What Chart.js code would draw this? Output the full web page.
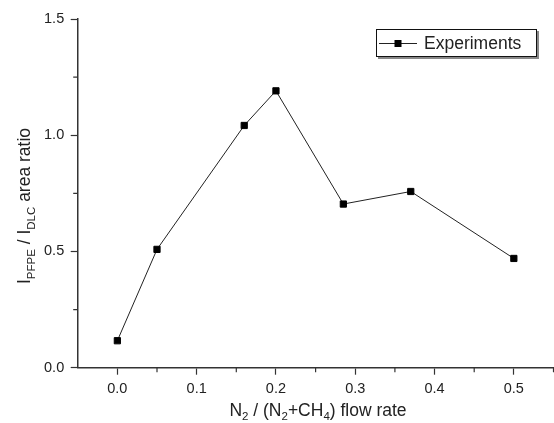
<!DOCTYPE html>
<html>
<head>
<meta charset="utf-8">
<script src="https://cdn.jsdelivr.net/npm/chart.js@4.4.0/dist/chart.umd.min.js"></script>
<style>
    html, body { margin: 0; padding: 0; background: #fff; }
</style>
</head>
<body>
<canvas id="ratio" width="554" height="423"></canvas>
<script>
// N2/(N2+CH4) flow rate vs PFPE/DLC area ratio
const flowRate = [0, 0.05, 0.16, 0.2, 0.285, 0.37, 0.5];
const areaRatio = [0.116, 0.509, 1.042, 1.191, 0.704, 0.758, 0.470];
const seriesLabel = 'Experiments';

const xMajorTicks = [0, 0.1, 0.2, 0.3, 0.4, 0.5];
const xMinorTicks = [0.05, 0.15, 0.25, 0.35, 0.45, 0.55];
const yMajorTicks = [0, 0.5, 1.0, 1.5];
const yMinorTicks = [0.25, 0.75, 1.25];

// axis titles as runs of [text, isSubscript]
const xTitle = [['N', 0], ['2', 1], [' / (', 0], ['N', 0], ['2', 1], ['+CH', 0], ['4', 1], [') flow rate', 0]];
const yTitle = [['I', 0], ['PFPE', 1], [' / ', 0], ['I', 0], ['DLC', 1], [' area ratio', 0]];

const FONT = '"Liberation Sans", Arial, sans-serif';
const INK = '#222';

function drawRuns(ctx, runs, size, subSize) {
    // draws the runs centred on x = 0, baseline y = 0
    let widths = runs.map(r => {
        ctx.font = (r[1] ? subSize : size) + 'px ' + FONT;
        return ctx.measureText(r[0]).width;
    });
    let total = widths.reduce((a, b) => a + b, 0);
    let x = -total / 2;
    runs.forEach((r, i) => {
        ctx.font = (r[1] ? subSize : size) + 'px ' + FONT;
        ctx.fillText(r[0], x, r[1] ? size * 0.28 : 0);
        x += widths[i];
    });
}

const extras = {
    id: 'extras',
    afterDraw(chart) {
        const ctx = chart.ctx;
        const xs = chart.scales.x, ys = chart.scales.y;
        const area = chart.chartArea;
        ctx.save();

        // minor ticks
        ctx.strokeStyle = '#333';
        ctx.lineWidth = 1.2;
        ctx.beginPath();
        xMinorTicks.forEach(v => {
            let px = xs.getPixelForValue(v);
            ctx.moveTo(px, area.bottom);
            ctx.lineTo(px, area.bottom + 4.5);
        });
        yMinorTicks.forEach(v => {
            let py = ys.getPixelForValue(v);
            ctx.moveTo(area.left, py);
            ctx.lineTo(area.left - 4.5, py);
        });
        ctx.stroke();

        // axis titles
        ctx.fillStyle = INK;
        ctx.textAlign = 'left';
        ctx.textBaseline = 'alphabetic';
        ctx.save();
        ctx.translate(318, 415.5);
        drawRuns(ctx, xTitle, 17.5, 11.5);
        ctx.restore();

        ctx.save();
        ctx.translate(30, 206);
        ctx.rotate(-Math.PI / 2);
        drawRuns(ctx, yTitle, 17.5, 11.5);
        ctx.restore();

        // legend box with shadow
        const ds = chart.data.datasets[0];
        const bx = 376, by = 29, bw = 161, bh = 28;
        ctx.fillStyle = '#888';
        ctx.fillRect(bx + 2, by + 2, bw, bh);
        ctx.fillStyle = '#fff';
        ctx.fillRect(bx, by, bw, bh);
        ctx.strokeStyle = '#111';
        ctx.lineWidth = 1;
        ctx.strokeRect(bx + 0.5, by + 0.5, bw - 1, bh - 1);

        let ly = by + bh / 2 + 0.5;
        ctx.strokeStyle = ds.borderColor;
        ctx.lineWidth = ds.borderWidth;
        ctx.beginPath();
        ctx.moveTo(bx + 3, ly);
        ctx.lineTo(bx + 41, ly);
        ctx.stroke();
        ctx.fillStyle = ds.pointBackgroundColor;
        ctx.fillRect(bx + 22 - 3.5, ly - 3.5, 7, 7);

        ctx.fillStyle = INK;
        ctx.font = '17.5px ' + FONT;
        ctx.textBaseline = 'middle';
        ctx.fillText(ds.label, bx + 48, ly + 1);
        ctx.restore();
    }
};

const tickFont = { family: FONT, size: 14.5 };

new Chart(document.getElementById('ratio').getContext('2d'), {
    type: 'line',
    data: {
        datasets: [{
            label: seriesLabel,
            data: flowRate.map((x, i) => ({ x: x, y: areaRatio[i] })),
            borderColor: '#222',
            borderWidth: 1,
            tension: 0,
            pointStyle: 'rect',
            pointRadius: 4.4,
            pointBorderWidth: 1,
            pointBackgroundColor: '#000',
            pointBorderColor: '#000'
        }]
    },
    options: {
        responsive: false,
        animation: false,
        devicePixelRatio: 1,
        layout: { autoPadding: false, padding: { top: 19, right: 0.5, left: 0, bottom: 0 } },
        plugins: {
            legend: { display: false },
            tooltip: { enabled: false }
        },
        scales: {
            x: {
                type: 'linear',
                min: -0.05,
                max: 0.55,
                afterBuildTicks: s => { s.ticks = xMajorTicks.map(v => ({ value: v })); },
                afterFit: s => { s.height = 55.3; },
                ticks: {
                    callback: v => v.toFixed(1),
                    font: tickFont,
                    color: INK,
                    padding: 5.5,
                    maxRotation: 0,
                    autoSkip: false
                },
                grid: { drawOnChartArea: false, tickLength: 7, tickColor: '#333', tickWidth: 1.2 },
                border: { color: '#333', width: 1.5 }
            },
            y: {
                min: 0,
                max: 1.5,
                afterBuildTicks: s => { s.ticks = yMajorTicks.map(v => ({ value: v })); },
                afterFit: s => { s.width = 77.7; },
                ticks: {
                    callback: v => v.toFixed(1),
                    font: tickFont,
                    color: INK,
                    padding: 6.5,
                    autoSkip: false
                },
                grid: { drawOnChartArea: false, tickLength: 7, tickColor: '#333', tickWidth: 1.2 },
                border: { color: '#333', width: 1.5 }
            }
        }
    },
    plugins: [extras]
});
</script>
</body>
</html>
